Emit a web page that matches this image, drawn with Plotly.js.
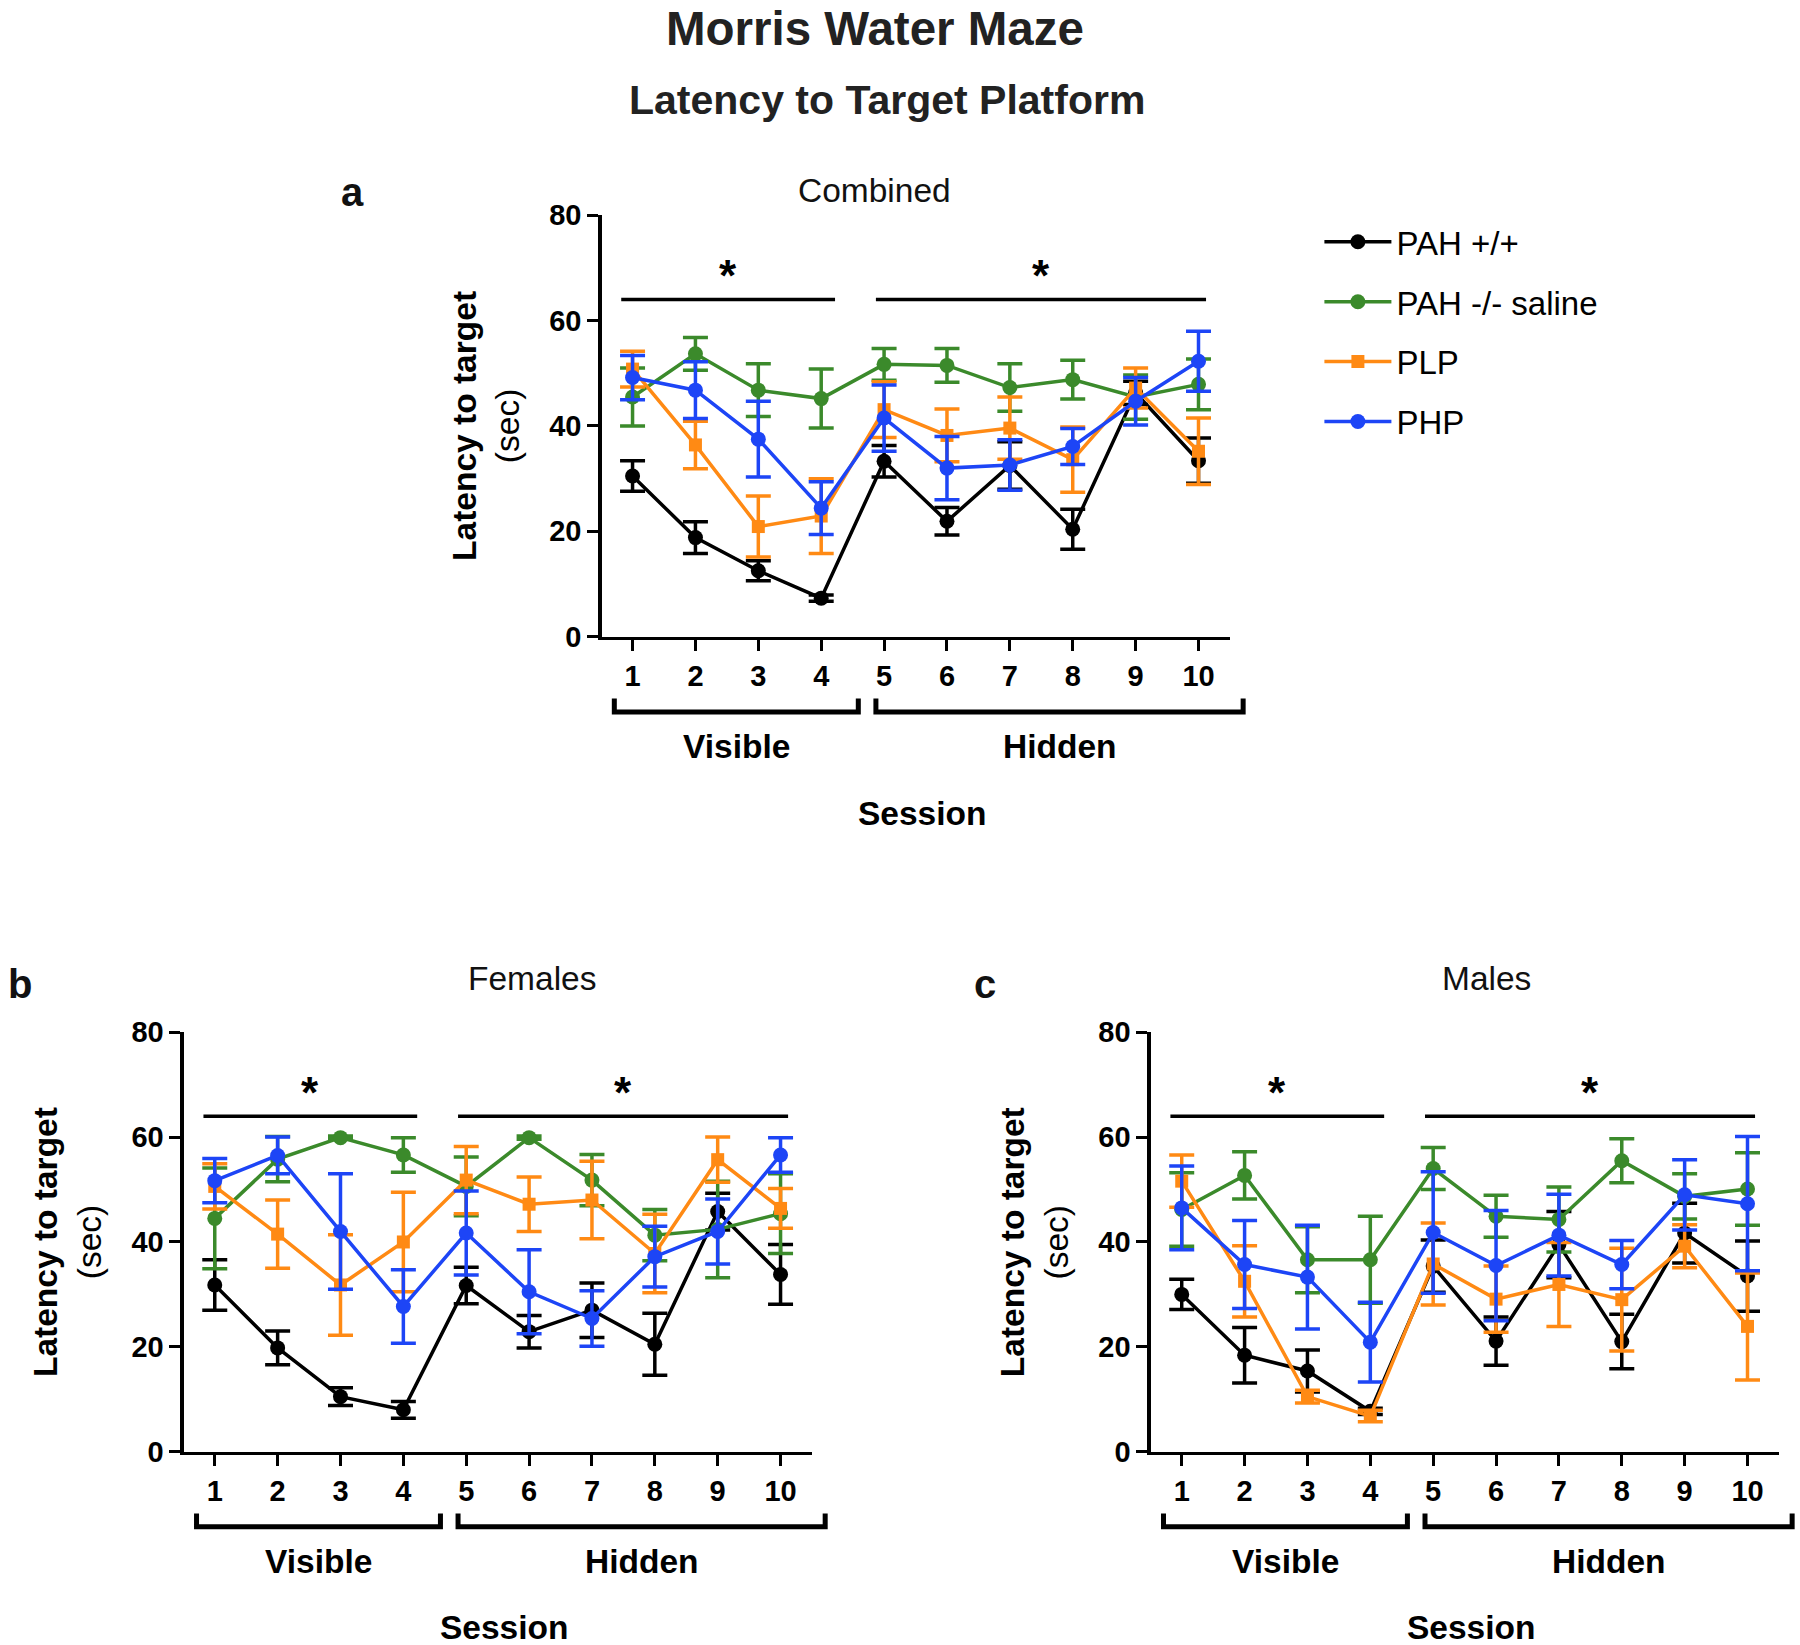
<!DOCTYPE html>
<html>
<head>
<meta charset="utf-8">
<script src="https://cdn.plot.ly/plotly-3.0.1.min.js"></script>
<style>html,body{margin:0;padding:0;background:#fff;}#chart{width:1800px;height:1645px;}</style>
</head>
<body>
<div id="chart"></div>
<script>
// ---------- data ----------
const sessions = [1, 2, 3, 4, 5, 6, 7, 8, 9, 10];
const sessionLabels = ["1", "2", "3", "4", "5", "6", "7", "8", "9", "10"];
const yTicks = [0, 20, 40, 60, 80];
const groupNames = ["PAH +/+", "PAH -/- saline", "PLP", "PHP"];
const phaseNames = ["Visible", "Hidden"];
const panelNames = ["Combined", "Females", "Males"];
const panelLetters = ["a", "b", "c"];

// Combined (a)
const combWT = [30.5, 18.8, 12.5, 7.3, 33.3, 21.9, 32.5, 20.4, 46.3, 33.4];
const combWTErr = [2.9, 3.0, 1.9, 0.6, 3.0, 2.6, 4.5, 3.8, 2.2, 4.3];
const combSaline = [45.5, 53.7, 46.8, 45.2, 51.7, 51.5, 47.3, 48.8, 45.5, 47.9];
const combSalineErr = [5.5, 3.1, 5.0, 5.6, 3.0, 3.2, 4.5, 3.7, 4.2, 4.8];
const combPLP = [50.8, 36.4, 20.9, 22.9, 43.1, 38.2, 39.6, 33.6, 47.2, 35.2];
const combPLPErr = [3.4, 4.5, 5.8, 7.1, 5.3, 5.0, 5.9, 6.2, 3.8, 6.3];
const combPHP = [49.2, 46.8, 37.5, 24.4, 41.5, 32.0, 32.6, 36.1, 44.7, 52.3];
const combPHPErr = [4.2, 5.4, 7.2, 5.0, 6.3, 6.0, 4.8, 3.4, 4.5, 5.7];

// Females (b)
const femWT = [31.8, 19.8, 10.5, 8.0, 31.7, 22.9, 27.0, 20.5, 45.8, 33.8];
const femWTErr = [4.8, 3.2, 1.7, 1.6, 3.5, 3.1, 5.2, 5.9, 3.5, 5.7];
const femSaline = [44.5, 55.8, 59.9, 56.6, 50.6, 59.9, 51.8, 41.3, 42.4, 45.4];
const femSalineErr = [9.6, 4.3, 0.3, 3.3, 5.6, 0.3, 4.9, 4.9, 9.2, 7.6];
const femPLP = [50.6, 41.5, 31.8, 40.0, 51.8, 47.2, 48.0, 37.8, 55.7, 46.4];
const femPLPErr = [4.3, 6.5, 9.6, 9.5, 6.4, 5.2, 7.4, 7.5, 4.3, 3.8];
const femPHP = [51.7, 56.5, 42.0, 27.7, 41.7, 30.5, 25.4, 37.2, 42.0, 56.6];
const femPHPErr = [4.2, 3.5, 11.0, 7.0, 8.0, 8.0, 5.3, 5.8, 6.2, 3.3];

// Males (c)
const maleWT = [30.0, 18.4, 15.4, 7.7, 35.4, 21.1, 39.5, 21.0, 41.7, 33.5];
const maleWTErr = [2.9, 5.3, 4.0, 0.6, 5.0, 4.6, 6.3, 5.2, 5.7, 6.7];
const maleSaline = [46.2, 52.7, 36.6, 36.6, 54.0, 44.9, 44.3, 55.5, 48.7, 50.1];
const maleSalineErr = [7.0, 4.5, 6.3, 8.3, 4.0, 4.0, 6.2, 4.2, 4.3, 6.9];
const malePLP = [51.6, 32.5, 10.5, 6.8, 35.8, 29.1, 31.9, 29.0, 39.2, 23.9];
const malePLPErr = [5.0, 6.8, 1.2, 1.1, 7.8, 6.3, 8.0, 9.8, 4.1, 10.2];
const malePHP = [46.5, 35.7, 33.3, 20.9, 41.8, 35.5, 41.3, 35.7, 49.0, 47.3];
const malePHPErr = [8.0, 8.4, 9.9, 7.6, 11.6, 10.5, 7.8, 4.6, 6.7, 12.8];

// significance bars (session spans) and level
const sigSpans = [[0.82, 4.22], [4.87, 10.12]];
const sigLevel = 64;
// phase brackets (session spans)
const phaseSpans = [[0.71, 4.59], [4.87, 10.71]];

// ---------- styling ----------
const FONT = "Liberation Sans, Arial, Helvetica, sans-serif";
const colors = ["#000000", "#3b8a2b", "#ff8a14", "#1d45f6"];
const symbols = ["circle", "circle", "square", "circle"];
const msizes = [15, 15, 13, 15];
const X_RANGE = [0.51, 10.5];
const xDomains = [[0.3343, 0.6833], [0.1022, 0.4511], [0.6394, 0.9883]];
const yDomains = [[0.6130, 0.8691], [0.1175, 0.3725], [0.1175, 0.3725]];

const panelsData = [
  [[combWT, combWTErr], [combSaline, combSalineErr], [combPLP, combPLPErr], [combPHP, combPHPErr]],
  [[femWT, femWTErr], [femSaline, femSalineErr], [femPLP, femPLPErr], [femPHP, femPHPErr]],
  [[maleWT, maleWTErr], [maleSaline, maleSalineErr], [malePLP, malePLPErr], [malePHP, malePHPErr]]
];
const axSuffix = ["", "2", "3"];

const traces = [];
panelsData.forEach((panel, p) => {
  panel.forEach((g, i) => {
    traces.push({
      type: "scatter",
      mode: "lines+markers",
      x: sessions,
      y: g[0],
      name: groupNames[i],
      legendgroup: "g" + i,
      showlegend: p === 0,
      xaxis: "x" + axSuffix[p],
      yaxis: "y" + axSuffix[p],
      line: {color: colors[i], width: 3.5},
      marker: {color: colors[i], symbol: symbols[i], size: msizes[i]},
      error_y: {type: "data", array: g[1], visible: true, color: colors[i], thickness: 3.5, width: 12.5},
      cliponaxis: false
    });
  });
});

function xAxis(dom, anchor) {
  return {
    domain: dom, anchor: anchor, range: X_RANGE,
    tickmode: "array", tickvals: sessions, ticktext: sessionLabels,
    showline: true, linewidth: 3.5, linecolor: "#000",
    ticks: "outside", ticklen: 11, tickwidth: 3, tickcolor: "#000",
    showgrid: false, zeroline: false,
    tickfont: {family: FONT, size: 29, color: "#000", weight: "bold"}
  };
}
function yAxis(dom, anchor) {
  return {
    domain: dom, anchor: anchor, range: [0, 80],
    tickmode: "array", tickvals: yTicks, ticktext: yTicks.map(String),
    showline: true, linewidth: 3.5, linecolor: "#000",
    ticks: "outside", ticklen: 11, tickwidth: 3, tickcolor: "#000",
    showgrid: false, zeroline: false,
    tickfont: {family: FONT, size: 29, color: "#000", weight: "bold"}
  };
}
// session value -> paper x for a panel (used for decorations drawn outside the axis range)
function toPaperX(p, v) {
  const d = xDomains[p];
  return d[0] + (v - X_RANGE[0]) / (X_RANGE[1] - X_RANGE[0]) * (d[1] - d[0]);
}

const shapes = [];
const annotations = [];

const panelTitlePos = [[0.4861, 0.8841], [0.2953, 0.4049], [0.826, 0.4049]];
const letterPos = [[0.1961, 0.8830], [0.0111, 0.4018], [0.5472, 0.4018]];
const yTitlePos = [[0.2699, 0.741], [0.0378, 0.245], [0.5751, 0.245]];

for (let p = 0; p < 3; p++) {
  const xr = "x" + axSuffix[p], yr = "y" + axSuffix[p];
  // significance bars and asterisks
  sigSpans.forEach(s => {
    shapes.push({type: "line", xref: xr, yref: yr, x0: s[0], x1: s[1], y0: sigLevel, y1: sigLevel,
      line: {color: "#000", width: 3.5}});
    annotations.push({xref: xr, yref: yr, x: (s[0] + s[1]) / 2, y: sigLevel + 4.5, text: "<b>*</b>",
      showarrow: false, yanchor: "middle", font: {family: FONT, size: 44, color: "#000"}});
  });
  // phase brackets
  phaseSpans.forEach((s, k) => {
    const a = toPaperX(p, s[0]), b = toPaperX(p, s[1]);
    shapes.push({type: "path", xref: "paper", yref: yr + " domain",
      path: `M ${a},-0.147 L ${a},-0.179 L ${b},-0.179 L ${b},-0.147`,
      line: {color: "#000", width: 5}});
    annotations.push({xref: xr, yref: yr + " domain", x: (s[0] + s[1]) / 2, y: -0.262,
      text: "<b>" + phaseNames[k] + "</b>", showarrow: false, yanchor: "middle",
      font: {family: FONT, size: 33.5, color: "#000"}});
  });
  annotations.push({xref: xr + " domain", yref: yr + " domain", x: 0.51, y: -0.419,
    text: "<b>Session</b>", showarrow: false, yanchor: "middle",
    font: {family: FONT, size: 33.5, color: "#000"}});
  // y title
  annotations.push({xref: "paper", yref: "paper", x: yTitlePos[p][0], y: yTitlePos[p][1],
    text: "<b>Latency to target</b><br>(sec)", textangle: -90, showarrow: false,
    xanchor: "center", yanchor: "middle", align: "center",
    font: {family: FONT, size: 33.5, color: "#000"}});
  // panel title + letter
  annotations.push({xref: "paper", yref: "paper", x: panelTitlePos[p][0], y: panelTitlePos[p][1],
    text: panelNames[p], showarrow: false, xanchor: "center", yanchor: "middle",
    font: {family: FONT, size: 33.5, color: "#111"}});
  annotations.push({xref: "paper", yref: "paper", x: letterPos[p][0], y: letterPos[p][1],
    text: "<b>" + panelLetters[p] + "</b>", showarrow: false, xanchor: "center", yanchor: "middle",
    font: {family: FONT, size: 40, color: "#111"}});
}

// main titles
annotations.push({xref: "paper", yref: "paper", x: 0.4861, y: 0.9824, text: "<b>Morris Water Maze</b>",
  showarrow: false, xanchor: "center", yanchor: "middle", font: {family: FONT, size: 47.5, color: "#222"}});
annotations.push({xref: "paper", yref: "paper", x: 0.4928, y: 0.9392, text: "<b>Latency to Target Platform</b>",
  showarrow: false, xanchor: "center", yanchor: "middle", font: {family: FONT, size: 41, color: "#222"}});

const layout = {
  width: 1800, height: 1645,
  margin: {l: 0, r: 0, t: 0, b: 0},
  paper_bgcolor: "#fff", plot_bgcolor: "rgba(0,0,0,0)",
  showlegend: true,
  legend: {x: 0.733, y: 0.8700, xanchor: "left", yanchor: "top",
    font: {family: FONT, size: 33, color: "#000"},
    traceorder: "grouped", tracegroupgap: 14, itemwidth: 67, bgcolor: "rgba(0,0,0,0)"},
  xaxis: xAxis(xDomains[0], "y"),
  yaxis: yAxis(yDomains[0], "x"),
  xaxis2: xAxis(xDomains[1], "y2"),
  yaxis2: yAxis(yDomains[1], "x2"),
  xaxis3: xAxis(xDomains[2], "y3"),
  yaxis3: yAxis(yDomains[2], "x3"),
  shapes: shapes,
  annotations: annotations
};

Plotly.newPlot("chart", traces, layout, {displayModeBar: false, staticPlot: true});
</script>
</body>
</html>
